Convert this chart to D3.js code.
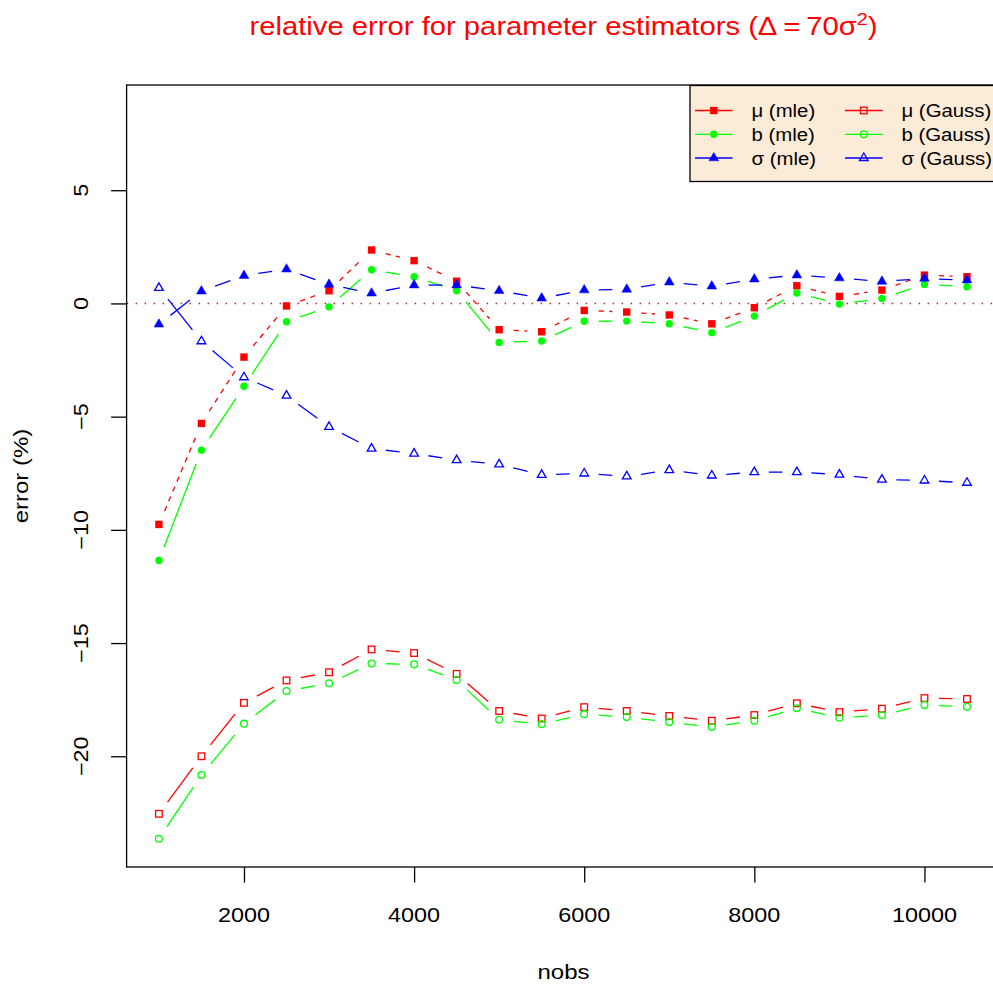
<!DOCTYPE html>
<html>
<head>
<meta charset="utf-8">
<script src="https://cdn.jsdelivr.net/npm/d3@7"></script>
<style>
  body { margin: 0; background: #fff; }
  text { font-family: "Liberation Sans", Arial, sans-serif; }
</style>
</head>
<body>
<script>
const width = 993;
const height = 986;

// sample sizes
const nobs = [1000, 1500, 2000, 2500, 3000, 3500, 4000, 4500, 5000, 5500,
              6000, 6500, 7000, 7500, 8000, 8500, 9000, 9500, 10000, 10500];

// relative error (%)
const muMle = [-9.76, -5.30, -2.37, -0.11, 0.56, 2.36, 1.89, 0.98, -1.16, -1.25,
               -0.31, -0.38, -0.51, -0.90, -0.19, 0.78, 0.31, 0.59, 1.25, 1.18];
const bMle = [-11.35, -6.48, -3.66, -0.81, -0.15, 1.49, 1.18, 0.56, -1.72, -1.66,
              -0.79, -0.78, -0.90, -1.29, -0.56, 0.46, -0.03, 0.22, 0.84, 0.74];
const sigmaMle = [-0.92, 0.54, 1.23, 1.51, 0.84, 0.45, 0.81, 0.81, 0.56, 0.23,
                  0.59, 0.62, 0.94, 0.76, 1.07, 1.25, 1.12, 0.97, 1.10, 1.03];
const muGauss = [-22.54, -20.00, -17.64, -16.65, -16.29, -15.28, -15.44, -16.36, -18.00, -18.33,
                 -17.83, -18.00, -18.22, -18.43, -18.18, -17.66, -18.05, -17.90, -17.43, -17.47];
const bGauss = [-23.64, -20.83, -18.56, -17.12, -16.78, -15.90, -15.94, -16.63, -18.39, -18.58,
                -18.14, -18.27, -18.49, -18.71, -18.43, -17.88, -18.30, -18.19, -17.74, -17.81];
const sigmaGauss = [0.69, -1.67, -3.26, -4.07, -5.45, -6.41, -6.63, -6.92, -7.11, -7.57,
                    -7.51, -7.64, -7.36, -7.60, -7.45, -7.45, -7.56, -7.78, -7.82, -7.92];

const xTicks = [2000, 4000, 6000, 8000, 10000];
const yTicks = [-20, -15, -10, -5, 0, 5];

const legendLabels = ['μ (mle)', 'b (mle)', 'σ (mle)', 'μ (Gauss)', 'b (Gauss)', 'σ (Gauss)'];

const series = [
  { values: muMle, color: '#ff0000', pch: 'sqFill', dash: '5.3 5.3' },
  { values: bMle, color: '#00ff00', pch: 'circFill', dash: null },
  { values: sigmaMle, color: '#0000ff', pch: 'triFill', dash: null },
  { values: muGauss, color: '#ff0000', pch: 'sqOpen', dash: null },
  { values: bGauss, color: '#00ff00', pch: 'circOpen', dash: null },
  { values: sigmaGauss, color: '#0000ff', pch: 'triOpen', dash: null }
];

const stretch = 1.2;   // text in the reference is drawn wide
const lw = 1.3;

const plot = { left: 126.6, right: 999.3, top: 85, bottom: 867 };

const x = d3.scaleLinear().domain([620, 10880]).range([plot.left, plot.right]);
const y = d3.scaleLinear().domain([-24.89, 9.647]).range([plot.bottom, plot.top]);

const svg = d3.select('body').append('svg').attr('width', width).attr('height', height);

function label(g, tx, ty, str, size, rot, anchor, sx) {
  return g.append('text')
    .attr('transform', `translate(${tx},${ty})` + (rot ? ' rotate(-90)' : '') + ` scale(${sx || stretch},1)`)
    .attr('font-size', size)
    .attr('text-anchor', anchor || 'middle')
    .text(str);
}

// marker drawing, roughly R's pch geometry
function marker(g, px, py, pch, color) {
  if (pch === 'sqFill') {
    const s = 3.7;
    g.append('rect').attr('x', px - s).attr('y', py - s).attr('width', 2 * s).attr('height', 2 * s)
      .attr('fill', color);
  } else if (pch === 'sqOpen') {
    const s = 3.3;
    g.append('rect').attr('x', px - s).attr('y', py - s).attr('width', 2 * s).attr('height', 2 * s)
      .attr('fill', 'none').attr('stroke', color).attr('stroke-width', lw);
  } else if (pch === 'circFill') {
    g.append('circle').attr('cx', px).attr('cy', py).attr('r', 3.7).attr('fill', color);
  } else if (pch === 'circOpen') {
    g.append('circle').attr('cx', px).attr('cy', py).attr('r', 3.4)
      .attr('fill', 'none').attr('stroke', color).attr('stroke-width', lw);
  } else {
    const fill = pch === 'triFill';
    const r = fill ? 5.6 : 5.0;
    const xc = r * 0.866, yc = r * 0.5;
    g.append('path')
      .attr('d', `M${px},${py - r}L${px + xc},${py + yc}L${px - xc},${py + yc}Z`)
      .attr('fill', fill ? color : 'none')
      .attr('stroke', color).attr('stroke-width', fill ? 0.5 : lw);
  }
}

// title
const title = svg.append('text')
  .attr('transform', `translate(563.5,35) scale(1.17,1)`)
  .attr('font-size', 25)
  .attr('text-anchor', 'middle')
  .attr('fill', '#ff0000');
title.append('tspan').text('relative error for parameter estimators (Δ\u2009=\u200970σ');
title.append('tspan').attr('font-size', 17).attr('dy', -10).text('2');
title.append('tspan').attr('dy', 10).text(')');

// zero reference line
svg.append('line')
  .attr('x1', plot.left).attr('x2', plot.right)
  .attr('y1', y(0)).attr('y2', y(0))
  .attr('stroke', '#a52a2a').attr('stroke-width', 1.5).attr('stroke-dasharray', '1.5 7.5');

// series: lines with gaps around the points (type = "b"), then points
const gap = 14.5;
series.forEach(s => {
  const g = svg.append('g');
  const pts = nobs.map((n, i) => [x(n), y(s.values[i])]);
  for (let i = 0; i < pts.length - 1; i++) {
    const [x0, y0] = pts[i], [x1, y1] = pts[i + 1];
    const d = Math.hypot(x1 - x0, y1 - y0);
    if (d <= 2 * gap) continue;
    const ux = (x1 - x0) / d, uy = (y1 - y0) / d;
    g.append('line')
      .attr('x1', x0 + ux * gap).attr('y1', y0 + uy * gap)
      .attr('x2', x1 - ux * gap).attr('y2', y1 - uy * gap)
      .attr('stroke', s.color).attr('stroke-width', lw)
      .attr('stroke-dasharray', s.dash);
  }
  pts.forEach(p => marker(g, p[0], p[1], s.pch, s.color));
});

// box
svg.append('rect')
  .attr('x', plot.left).attr('y', plot.top)
  .attr('width', plot.right - plot.left).attr('height', plot.bottom - plot.top)
  .attr('fill', 'none').attr('stroke', '#000').attr('stroke-width', lw);

// axes
const xAxis = svg.append('g').attr('transform', `translate(0,${plot.bottom})`)
  .call(d3.axisBottom(x).tickValues(xTicks).tickSize(15.5).tickFormat(''));
const yAxis = svg.append('g').attr('transform', `translate(${plot.left},0)`)
  .call(d3.axisLeft(y).tickValues(yTicks).tickSize(15.5).tickFormat(''));
[xAxis, yAxis].forEach(a => {
  a.select('.domain').remove();
  a.selectAll('line').attr('stroke', '#000').attr('stroke-width', lw);
});

xTicks.forEach(v => label(svg, x(v), 922, String(v), 19.5));
yTicks.forEach(v => label(svg, 87.5, y(v), String(v).replace('-', '\u2212'), 19.5, true));

label(svg, 563.5, 979, 'nobs', 20);
label(svg, 28, (plot.top + plot.bottom) / 2, 'error (%)', 20, true);

// legend
const lg = svg.append('g');
lg.append('rect')
  .attr('x', 690).attr('y', 85.5).attr('width', 320).attr('height', 96)
  .attr('fill', '#fcebd7').attr('stroke', '#000').attr('stroke-width', lw);
const rowY = [110.5, 134.3, 158];
const colX = [695, 845];
series.forEach((s, i) => {
  const cx = colX[Math.floor(i / 3)];
  const cy = rowY[i % 3];
  lg.append('line').attr('x1', cx).attr('x2', cx + 37.5).attr('y1', cy).attr('y2', cy)
    .attr('stroke', s.color).attr('stroke-width', lw);
  marker(lg, cx + 18.8, cy, s.pch, s.color);
  label(lg, cx + 56.5, cy + 6.5, legendLabels[i], 18.5, false, 'start', 1.1);
});
</script>
</body>
</html>
